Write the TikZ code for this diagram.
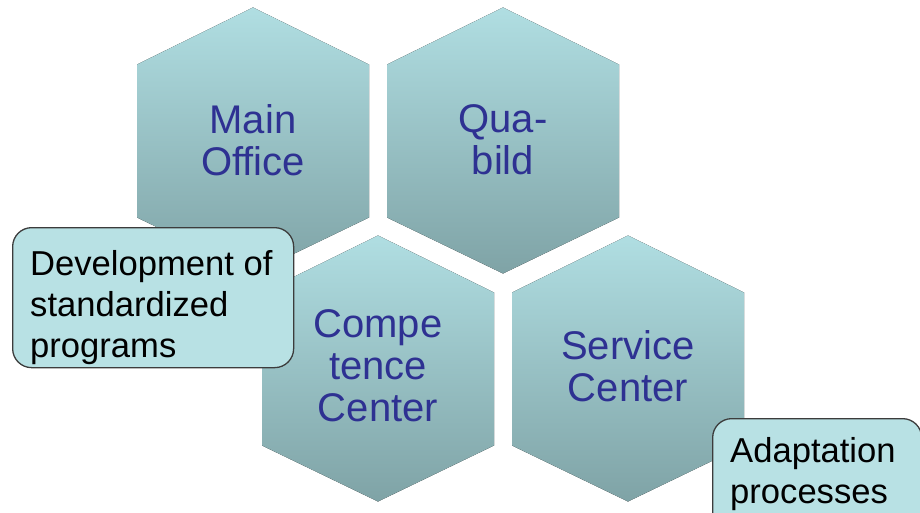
\documentclass[tikz,border=0pt]{standalone}
\usepackage{fontspec}
\setmainfont{Liberation Sans}
\usepackage{tikz}
\usetikzlibrary{positioning}

\definecolor{hexTop}{HTML}{B0DEE2}
\definecolor{hexMid}{HTML}{A2CCD0}
\definecolor{hexBot}{HTML}{7FA3A6}
\definecolor{cellBlue}{HTML}{2E3192}
\definecolor{boxFill}{HTML}{B8E1E4}
\definecolor{boxLine}{HTML}{3C3C3C}

\begin{document}
\begin{tikzpicture}[x=1pt,y=-1pt,
        hexcell/.style={top color=hexTop,middle color=hexMid,bottom color=hexBot,draw=none},
        celltext/.style={text=cellBlue,font=\fontsize{40}{42}\selectfont,align=center},
        notebox/.style={draw=boxLine,fill=boxFill,rounded corners=19pt,line width=1.3pt},
        notetext/.style={text=black,font=\fontsize{34.6}{41}\selectfont,align=left,inner sep=0pt}]

        \useasboundingbox (0,0) rectangle (920,513);
        \clip (0,0) rectangle (920,513);

        % the four cells
        \fill[hexcell,shift={(253,140.5)}] (0,-133) -- (116,-76) -- (116,77) -- (0,133) -- (-116,77) -- (-116,-76) -- cycle;
        \fill[hexcell,shift={(503,140.5)}] (0,-133) -- (116,-76) -- (116,77) -- (0,133) -- (-116,77) -- (-116,-76) -- cycle;
        \fill[hexcell,shift={(378,368.5)}] (0,-133) -- (116,-76) -- (116,77) -- (0,133) -- (-116,77) -- (-116,-76) -- cycle;
        \fill[hexcell,shift={(628,368.5)}] (0,-133) -- (116,-76) -- (116,77) -- (0,133) -- (-116,77) -- (-116,-76) -- cycle;

        \node[celltext] (main)    at (253,140) {Main\\Office};
        \node[celltext] (quabild) at (503,140) {Qua-\\bild};
        \node[celltext] (compe)   at (378,366) {Compe\\tence\\Center};
        \node[celltext] (service) at (628,366) {Service\\Center};

        % notes
        \node[notebox,minimum width=281pt,minimum height=140pt,anchor=north west] (devbox) at (12,227) {};
        \node[notetext,anchor=north west] (devtext) at ([xshift=18pt,yshift=-23pt]devbox.north west)
            {Development of\\standardized\\programs};

        \node[notebox,minimum width=209pt,minimum height=120pt,anchor=north west] (adabox) at (712,418) {};
        \node[notetext,anchor=north west] (adatext) at ([xshift=18pt,yshift=-19pt]adabox.north west)
            {Adaptation\\processes};
\end{tikzpicture}
\end{document}
